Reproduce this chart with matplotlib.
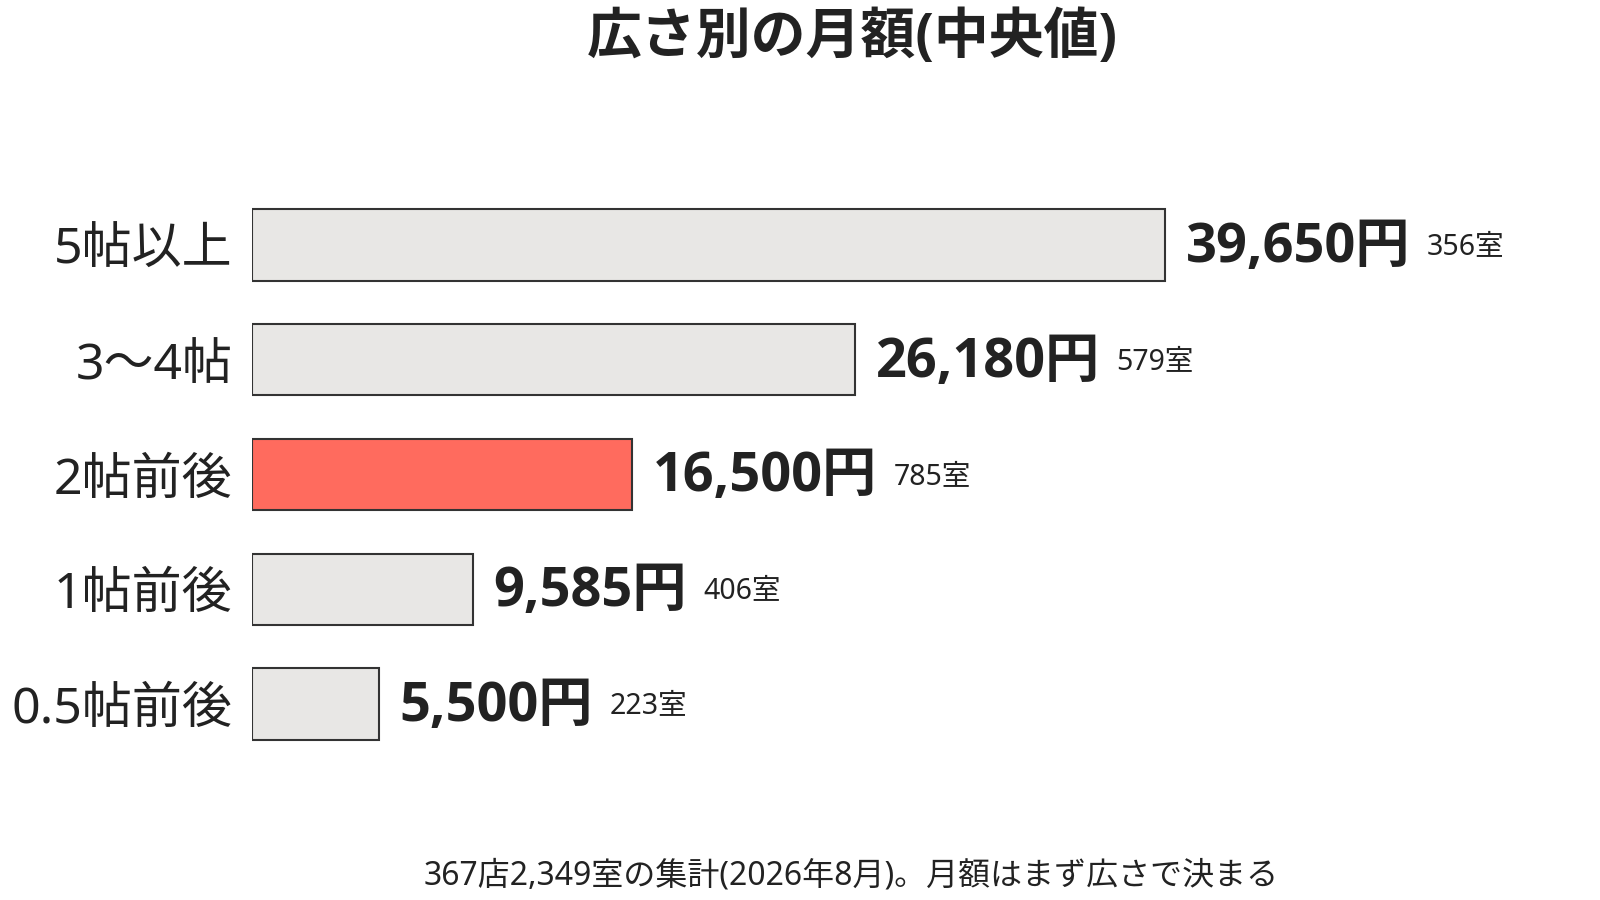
import matplotlib
matplotlib.use("Agg")
import matplotlib.pyplot as plt

plt.rcParams['font.family'] = ['Noto Sans', 'Noto Sans CJK JP', 'DejaVu Sans']
bold_family = ['Open Sans', 'Noto Sans CJK JP', 'DejaVu Sans']

# データ (下から順)
categories = ["0.5帖前後", "1帖前後", "2帖前後", "3〜4帖", "5帖以上"]
monthly = [5500, 9585, 16500, 26180, 39650]
rooms = [223, 406, 785, 579, 356]
highlight = "2帖前後"

fig = plt.figure(figsize=(16, 9), dpi=100)
ax = fig.add_axes([252 / 1600, 96 / 900, 1328 / 1600, 659 / 900])

colors = ["#FF6B5E" if c == highlight else "#E8E7E5" for c in categories]
ypos = list(range(len(categories)))
ax.barh(ypos, monthly, height=0.623, color=colors, edgecolor="#333333", linewidth=1.5)

ax.set_xlim(0, 1328 / 0.02303)
ax.set_ylim(-0.8715, 4.8715)
ax.set_yticks(ypos)
ax.set_yticklabels(categories, fontsize=36, color="#222222")
ax.tick_params(axis='y', length=0, pad=14)
ax.set_xticks([])
for s in ax.spines.values():
    s.set_visible(False)

for y, v, r in zip(ypos, monthly, rooms):
    t = ax.annotate(f"{v:,}円", xy=(v, y), xytext=(15, -2), textcoords="offset points",
                    va="center", ha="left", fontsize=39, fontweight="bold",
                    family=bold_family, color="#222222")
    fig.canvas.draw()
    bb = t.get_window_extent()
    ax.annotate(f"{r}室", xy=(bb.x1, bb.y0 + bb.height / 2), xycoords="figure pixels",
                xytext=(12, 0), textcoords="offset points",
                va="center", ha="left", fontsize=20.5, color="#222222")

fig.text(0.533, 0.957, "広さ別の月額(中央値)", ha="center", va="center",
         fontsize=39.5, fontweight="bold", family=bold_family, color="#222222")
fig.text(0.532, 0.027, "367店2,349室の集計(2026年8月)。月額はまず広さで決まる",
         ha="center", va="center", fontsize=23, color="#222222")

fig.savefig("out.png", dpi=100, facecolor="white")
